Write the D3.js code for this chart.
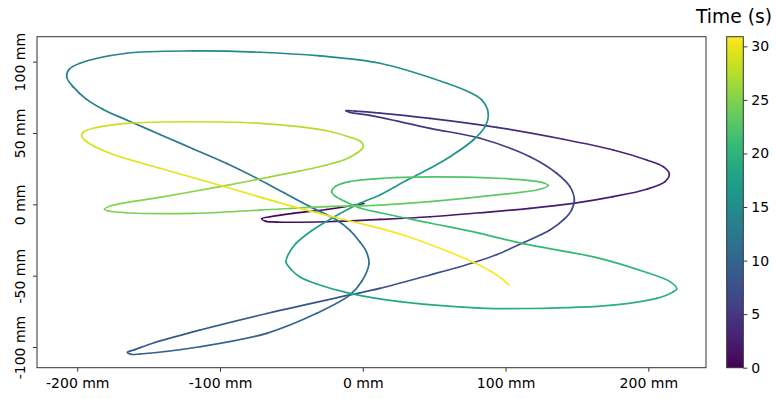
<!DOCTYPE html>
<html>
<head>
<meta charset="utf-8">
<script src="https://cdn.jsdelivr.net/npm/d3@7"></script>
<style>
  html, body { margin: 0; padding: 0; background: #fff; }
  svg { display: block; }
  text { font-family: "DejaVu Sans", sans-serif; fill: #000; }
</style>
</head>
<body>
<svg id="chart" width="777" height="399"></svg>
<script>
// ---- data ----
const timeS = [0.0,0.35,0.65,0.88,1.0,1.08,1.18,1.45,1.7,1.92,2.15,2.35,2.52,2.68,2.8,2.9,2.98,3.06,3.18,3.35,3.6,3.9,4.15,4.35,4.5,4.58,4.65,4.78,5.1,5.35,5.7,5.95,6.15,6.35,6.48,6.6,6.78,7.0,7.2,7.38,7.62,7.9,8.05,8.4,8.65,8.82,8.92,9.0,9.05,9.1,9.4,9.75,10.1,10.4,10.6,10.85,11.0,11.15,11.3,11.45,11.7,11.92,12.12,12.38,12.6,12.82,13.02,13.15,13.27,13.38,13.48,13.56,13.66,13.95,14.25,14.55,14.8,15.05,15.38,15.52,15.62,15.78,15.92,16.07,16.27,16.42,16.6,16.8,16.95,17.15,17.35,17.52,17.66,17.75,17.84,17.95,18.12,18.4,18.72,19.1,19.32,19.6,19.8,19.92,19.98,20.08,20.25,20.5,20.78,20.97,21.2,21.45,21.57,21.68,21.76,21.83,21.9,22.0,22.15,22.35,22.58,22.7,22.77,22.82,22.9,23.12,23.42,23.68,23.95,24.28,24.6,24.88,24.98,25.03,25.12,25.42,25.75,25.98,26.2,26.38,26.55,26.7,26.8,26.88,26.96,27.05,27.3,27.72,28.1,28.48,28.75,28.86,28.93,29.02,29.22,29.5,29.82,30.12,30.3,30.42,30.5,30.6,30.74,30.83,30.9];
const xMM = [0.8,-25.3,-48.7,-65.0,-70.8,-67.8,-60.3,-25.3,12.0,47.1,82.1,117.1,147.5,175.5,198.9,211.7,214.7,210.5,198.9,175.5,140.5,93.8,47.1,12.0,-5.5,-11.8,-9.0,5.0,47.1,82.1,117.1,135.8,145.1,148.2,146.2,140.9,131.1,112.4,94.0,77.4,47.1,12.0,-9.0,-67.1,-114.0,-145.6,-159.6,-164.8,-162.4,-156.1,-114.0,-67.3,-32.3,-9.0,-0.6,4.3,2.6,-2.0,-9.0,-18.3,-37.0,-54.5,-72.0,-95.3,-118.7,-142.1,-165.4,-181.8,-193.9,-202.8,-207.4,-205.8,-198.1,-165.4,-118.7,-72.0,-30.0,12.0,58.8,75.1,83.3,87.9,85.6,77.4,61.1,47.1,30.8,12.0,-2.0,-19.5,-35.6,-46.8,-52.0,-53.8,-49.9,-44.0,-32.3,-9.0,26.1,82.1,117.1,175.3,205.9,217.3,219.9,215.2,198.9,163.8,111.3,82.1,47.1,12.0,-2.0,-12.5,-19.5,-21.8,-18.8,-9.0,14.2,47.1,93.8,117.1,126.9,129.9,124.1,93.8,47.1,12.0,-25.3,-72.0,-118.7,-165.4,-177.8,-180.9,-175.7,-142.1,-100.0,-72.0,-44.0,-25.3,-12.5,-4.3,-0.6,0.4,-2.0,-6.7,-25.3,-72.0,-118.7,-165.4,-188.8,-196.0,-196.9,-193.4,-177.1,-142.1,-95.3,-48.7,-9.0,12.0,26.1,47.1,77.4,93.8,102.4];
const yMM = [0.6,-3.6,-6.3,-8.7,-10.1,-11.9,-12.4,-12.2,-10.6,-8.7,-5.9,-2.8,0.7,5.4,10.6,15.9,21.3,26.4,31.1,38.1,45.6,54.0,60.3,64.0,65.4,65.7,64.5,62.3,53.3,46.3,33.4,21.8,12.4,3.0,-4.0,-10.6,-18.0,-26.9,-35.2,-40.9,-49.5,-58.9,-63.5,-76.5,-88.1,-96.8,-101.8,-103.7,-105.1,-104.9,-99.8,-90.4,-76.4,-63.5,-53.7,-41.8,-33.4,-26.4,-18.3,-11.0,-1.6,7.7,17.1,28.6,38.8,49.0,59.1,66.5,73.9,82.3,89.1,94.5,98.9,105.9,107.5,106.6,104.0,98.9,84.9,78.4,73.2,63.8,54.4,45.1,33.4,25.3,16.8,6.6,0.7,-8.5,-18.3,-27.4,-34.8,-40.4,-46.0,-50.9,-55.8,-62.4,-68.2,-72.7,-73.0,-70.6,-65.9,-61.4,-59.3,-54.2,-47.8,-37.3,-27.4,-20.3,-13.1,-5.9,-2.6,2.0,5.9,8.9,12.9,16.0,18.3,19.2,18.3,16.6,15.0,13.2,10.6,6.6,1.9,-0.5,-1.6,-4.0,-6.3,-5.9,-4.7,-3.3,-0.8,4.9,12.4,17.8,23.4,27.6,31.4,35.8,38.8,41.3,44.4,46.3,51.6,56.8,57.9,56.8,53.3,50.4,47.9,43.9,35.8,25.3,12.0,-1.6,-11.7,-16.8,-20.8,-28.1,-40.6,-49.5,-56.5];

const xDomain = [-228.2, 240.4];
const yDomain = [-114.5, 117.5];
const xTicks = [-200, -100, 0, 100, 200];
const yTicks = [-100, -50, 0, 50, 100];
const cTicks = [0, 5, 10, 15, 20, 25, 30];
const colorbarTitle = "Time (s)";
const unit = " mm";

// ---- layout ----
const plot = { left: 37, right: 706, top: 36.7, bottom: 367.7 };
const cbar = { left: 726.7, right: 743.3, top: 36.7, bottom: 367.7 };

const svg = d3.select("#chart");
const x = d3.scaleLinear().domain(xDomain).range([plot.left, plot.right]);
const y = d3.scaleLinear().domain(yDomain).range([plot.bottom, plot.top]);
const tMax = d3.max(timeS);
const color = d3.scaleSequential(d3.interpolateViridis).domain([0, tMax]);
const c = d3.scaleLinear().domain([0, tMax]).range([cbar.bottom, cbar.top]);

const pts = timeS.map((t, i) => ({ t, x: xMM[i], y: yMM[i] }));

// Record the per-segment curve commands produced by d3's Catmull-Rom curve
const rec = {
  segs: [], cur: null,
  moveTo(a, b) { this.cur = [a, b]; },
  lineTo(a, b) { this.segs.push(`M${this.cur[0]},${this.cur[1]}L${a},${b}`); this.cur = [a, b]; },
  bezierCurveTo(a, b, c1, d, e, f) {
    this.segs.push(`M${this.cur[0]},${this.cur[1]}C${a},${b},${c1},${d},${e},${f}`);
    this.cur = [e, f];
  },
  closePath() {}
};
d3.line().x(d => x(d.x)).y(d => y(d.y)).curve(d3.curveCatmullRom.alpha(0.5)).context(rec)(pts);

const gLine = svg.append("g");
rec.segs.forEach((dStr, i) => {
  const tm = (pts[i].t + pts[i + 1].t) / 2;
  gLine.append("path")
    .attr("d", dStr)
    .attr("fill", "none")
    .attr("stroke", color(tm))
    .attr("stroke-width", 1.7)
    .attr("stroke-linecap", "round");
});

// ---- axes ----
const fmt = d => `${d}${unit}`;
const xAxis = svg.append("g")
  .attr("transform", `translate(0,${plot.bottom})`)
  .call(d3.axisBottom(x).tickValues(xTicks).tickFormat(fmt).tickSizeOuter(0).tickSize(4).tickPadding(4));
xAxis.select(".domain").remove();
xAxis.selectAll("text").attr("font-size", 14).attr("font-family", "DejaVu Sans").attr("fill", "#000").attr("dy", "0.85em");
xAxis.selectAll("line").attr("stroke", "#333");

const yAxis = svg.append("g")
  .attr("transform", `translate(${plot.left},0)`)
  .call(d3.axisLeft(y).tickValues(yTicks).tickFormat(fmt).tickSizeOuter(0).tickSize(4));
yAxis.select(".domain").remove();
yAxis.selectAll("line").attr("stroke", "#333");
yAxis.selectAll("text")
  .attr("font-size", 14).attr("font-family", "DejaVu Sans").attr("fill", "#000")
  .attr("x", null).attr("dy", null)
  .attr("text-anchor", "middle")
  .attr("transform", "translate(-12,0) rotate(-90)");

// frame
svg.append("rect")
  .attr("x", plot.left).attr("y", plot.top)
  .attr("width", plot.right - plot.left).attr("height", plot.bottom - plot.top)
  .attr("fill", "none").attr("stroke", "#333").attr("stroke-width", 1);

// ---- colorbar ----
const defs = svg.append("defs");
const grad = defs.append("linearGradient").attr("id", "vir")
  .attr("x1", 0).attr("y1", 1).attr("x2", 0).attr("y2", 0);
d3.range(0, 1.0001, 0.05).forEach(f => {
  grad.append("stop").attr("offset", f).attr("stop-color", d3.interpolateViridis(f));
});
svg.append("rect")
  .attr("x", cbar.left).attr("y", cbar.top)
  .attr("width", cbar.right - cbar.left).attr("height", cbar.bottom - cbar.top)
  .attr("fill", "url(#vir)").attr("stroke", "#333").attr("stroke-width", 1);

const cAxis = svg.append("g")
  .attr("transform", `translate(${cbar.right},0)`)
  .call(d3.axisRight(c).tickValues(cTicks).tickSizeOuter(0).tickSize(4).tickPadding(4));
cAxis.select(".domain").remove();
cAxis.selectAll("line").attr("stroke", "#333");
cAxis.selectAll("text").attr("font-size", 14).attr("font-family", "DejaVu Sans").attr("fill", "#000");

svg.append("text")
  .attr("x", 734).attr("y", 23)
  .attr("text-anchor", "middle")
  .attr("font-size", 18.7)
  .text(colorbarTitle);
</script>
</body>
</html>
